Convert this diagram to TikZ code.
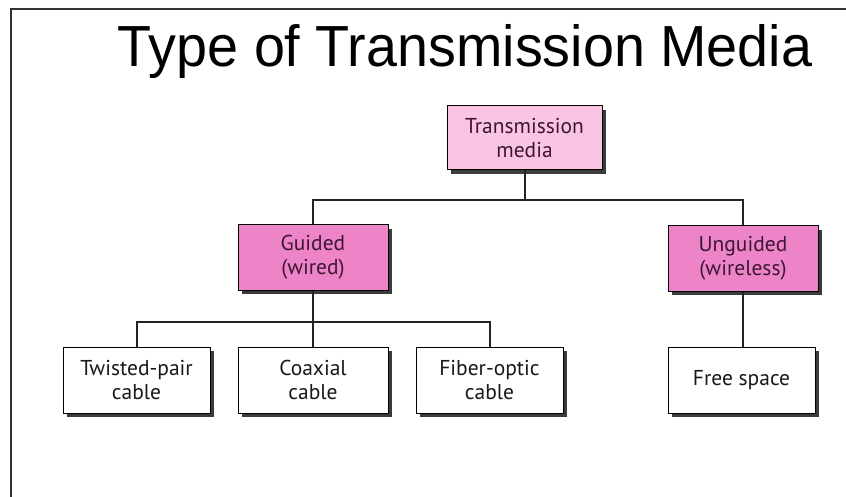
\documentclass[tikz,border=0pt]{standalone}
\usepackage{fontspec}
\setmainfont{PT Sans}
\newfontfamily\titlefont{Liberation Sans}
\usetikzlibrary{shadows}
\definecolor{rootpink}{RGB}{250,196,228}
\definecolor{midpink}{RGB}{238,132,200}
\definecolor{pinktext}{RGB}{62,22,52}
\definecolor{boxtext}{RGB}{25,25,25}
\definecolor{linegray}{RGB}{35,35,35}
\tikzset{
  box/.style={draw=black, line width=1pt, align=center, text=boxtext,
    font=\fontsize{21.5}{24}\selectfont, inner sep=0pt,
    drop shadow={shadow xshift=4pt, shadow yshift=-4pt, fill=black!85, opacity=0.9}},
  rootbox/.style={box, fill=rootpink, text=pinktext},
  kindbox/.style={box, fill=midpink, text=pinktext},
  leafbox/.style={box, fill=white},
  conn/.style={draw=linegray, line width=2pt},
  frame/.style={draw=black!80, line width=2pt}
}
\begin{document}
\begin{tikzpicture}[x=1pt, y=-1pt]
  \useasboundingbox (0,0) rectangle (846,497);

  % page frame (top and left edges)
  \draw[frame] (11,497) -- (11,9) -- (846,9);

  % heading
  \node[anchor=base, xscale=0.96, font=\titlefont\fontsize{58}{60}\selectfont] (title) at (465,67)
    {Type of Transmission Media};

  % tree of boxes
  \node[rootbox, minimum width=155, minimum height=64] (root) at (524.5,138) {Transmission\\media};
  \node[kindbox, minimum width=150, minimum height=65] (guided) at (313,257.5) {Guided\\(wired)};
  \node[kindbox, minimum width=150, minimum height=65] (unguided) at (743,258.5) {Unguided\\(wireless)};
  \node[leafbox, minimum width=147, minimum height=66] (twisted) at (136.5,380) {Twisted-pair\\cable};
  \node[leafbox, minimum width=150, minimum height=66] (coax) at (313,380) {Coaxial\\cable};
  \node[leafbox, minimum width=147, minimum height=66] (fiber) at (489.5,380) {Fiber-optic\\cable};
  \node[leafbox, minimum width=147, minimum height=66] (free) at (741.5,380) {Free space};

  % connectors
  \coordinate (busTop) at (524.5,200);
  \coordinate (busMid) at (313,322);
  \draw[conn] (root.south) -- (busTop);
  \draw[conn] (guided.north) |- (busTop) -| (unguided.north);
  \draw[conn] (guided.south) -- (coax.north);
  \draw[conn] (twisted.north) |- (busMid) -| (fiber.north);
  \draw[conn] (unguided.south) -- (unguided.south |- free.north);
\end{tikzpicture}
\end{document}
